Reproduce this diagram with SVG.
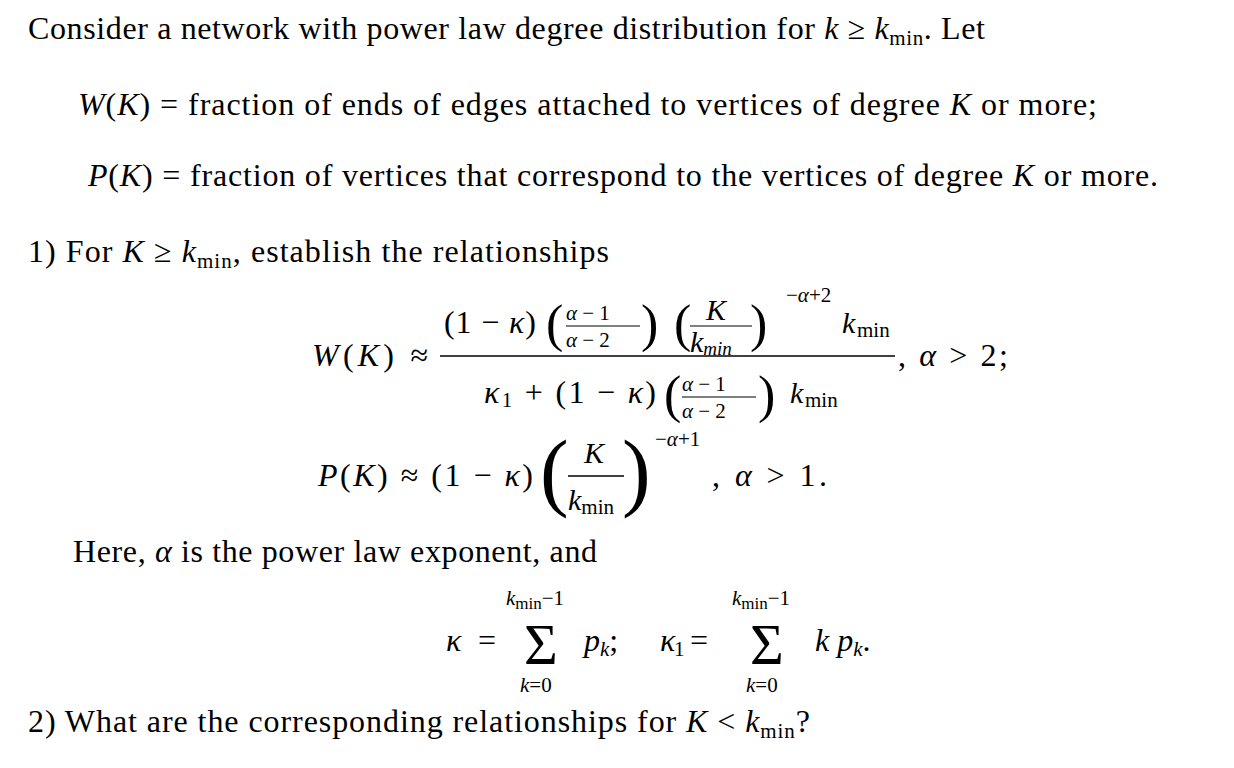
<svg xmlns="http://www.w3.org/2000/svg" width="1234" height="768" viewBox="0 0 1234 768">
<style>
text{font-family:"Liberation Serif","DejaVu Serif",serif;font-size:30px;fill:#000}
.t{font-size:32px}
.i{font-style:italic}
.s{font-size:21px}
.m{font-size:52px}
.b{font-size:86px}
.sig{font-size:58px}
</style>
<rect width="1234" height="768" fill="#fff"/>
<text class="t" x="28" y="39" textLength="957" lengthAdjust="spacing">Consider a network with power law degree distribution for <tspan class="i">k</tspan> ≥ <tspan class="i">k</tspan><tspan class="s" dy="6">min</tspan><tspan dy="-6">. Let</tspan></text>
<text class="t" x="78" y="115" textLength="1019" lengthAdjust="spacing"><tspan class="i">W</tspan>(<tspan class="i">K</tspan>) = fraction of ends of edges attached to vertices of degree <tspan class="i">K</tspan> or more;</text>
<text class="t" x="88" y="186" textLength="1070" lengthAdjust="spacing"><tspan class="i">P</tspan>(<tspan class="i">K</tspan>) = fraction of vertices that correspond to the vertices of degree <tspan class="i">K</tspan> or more.</text>
<text class="t" x="28" y="262" textLength="581" lengthAdjust="spacing">1)  For <tspan class="i">K</tspan> ≥ <tspan class="i">k</tspan><tspan class="s" dy="6">min</tspan><tspan dy="-6">, establish the relationships</tspan></text>
<g id="W">
<text class="t" x="312" y="366" textLength="116" lengthAdjust="spacing"><tspan class="i">W</tspan>(<tspan class="i">K</tspan>) ≈</text>
<line x1="440" y1="356" x2="895" y2="356" stroke="#000" stroke-width="1.3"/>
<text class="t" x="444" y="333" textLength="92" lengthAdjust="spacing">(1 − <tspan class="i">κ</tspan>)</text>
<text x="546" y="341" class="m">(</text>
<text x="566" y="320" class="s"><tspan class="i">α</tspan> − 1</text>
<line x1="566" y1="326" x2="640" y2="326" stroke="#000" stroke-width="1.2"/>
<text x="566" y="347" class="s"><tspan class="i">α</tspan> − 2</text>
<text x="641" y="341" class="m">)</text>
<text x="674" y="341" class="m">(</text>
<text x="706" y="320" class="i">K</text>
<line x1="690" y1="326" x2="752" y2="326" stroke="#000" stroke-width="1.2"/>
<text x="690" y="352" class="i" font-size="24px">k<tspan font-size="19px" dy="3">min</tspan></text>
<text x="750" y="341" class="m">)</text>
<text x="786" y="302" class="s">−<tspan class="i">α</tspan>+2</text>
<text x="842" y="333" class="i">k</text><text x="857" y="337" class="s">min</text>
<text class="t" x="484" y="403" textLength="172" lengthAdjust="spacing"><tspan class="i">κ</tspan><tspan class="s" dy="4">1</tspan><tspan dy="-4"> + (1 − </tspan><tspan class="i">κ</tspan>)</text>
<text x="664" y="412" class="m">(</text>
<text x="682" y="391" class="s"><tspan class="i">α</tspan> − 1</text>
<line x1="682" y1="397" x2="756" y2="397" stroke="#000" stroke-width="1.2"/>
<text x="682" y="418" class="s"><tspan class="i">α</tspan> − 2</text>
<text x="758" y="412" class="m">)</text>
<text x="790" y="403" class="i">k</text><text x="805" y="407" class="s">min</text>
<text class="t" x="898" y="366" textLength="110" lengthAdjust="spacing">, <tspan class="i">α</tspan> &gt; 2;</text>
</g>
<g id="P">
<text class="t" x="318" y="486" textLength="215" lengthAdjust="spacing"><tspan class="i">P</tspan>(<tspan class="i">K</tspan>) ≈ (1 − <tspan class="i">κ</tspan>)</text>
<text x="540" y="500" class="b">(</text>
<text x="584" y="463" class="i">K</text>
<line x1="568" y1="476" x2="624" y2="476" stroke="#000" stroke-width="1.3"/>
<text x="568" y="510" class="i">k<tspan class="s" dy="4" font-style="normal">min</tspan></text>
<text x="622" y="500" class="b">)</text>
<text x="655" y="446" class="s">−<tspan class="i">α</tspan>+1</text>
<text class="t" x="712" y="486" textLength="115" lengthAdjust="spacing">, <tspan class="i">α</tspan> &gt; 1.</text>
</g>
<text class="t" x="73" y="562" textLength="524" lengthAdjust="spacing">Here, <tspan class="i">α</tspan> is the power law exponent, and</text>
<g id="sums">
<text class="t" x="446" y="651" textLength="50" lengthAdjust="spacing"><tspan class="i">κ</tspan> =</text>
<text x="506" y="605" class="s"><tspan class="i">k</tspan><tspan font-size="17px" dy="4">min</tspan><tspan dy="-4">−1</tspan></text>
<text x="524" y="664" class="sig">Σ</text>
<text x="520" y="692" class="s"><tspan class="i">k</tspan>=0</text>
<text class="t" x="584" y="651"><tspan class="i">p</tspan><tspan class="s i" dy="5">k</tspan><tspan dy="-5">;</tspan></text>
<text class="t" x="660" y="651" textLength="48" lengthAdjust="spacing"><tspan class="i">κ</tspan><tspan class="s" dy="5">1</tspan><tspan dy="-5"> =</tspan></text>
<text x="732" y="605" class="s"><tspan class="i">k</tspan><tspan font-size="17px" dy="4">min</tspan><tspan dy="-4">−1</tspan></text>
<text x="750" y="664" class="sig">Σ</text>
<text x="746" y="692" class="s"><tspan class="i">k</tspan>=0</text>
<text class="t" x="815" y="651"><tspan class="i">k p</tspan><tspan class="s i" dy="5">k</tspan><tspan dy="-5">.</tspan></text>
</g>
<text class="t" x="28" y="732" textLength="782" lengthAdjust="spacing">2)  What are the corresponding relationships for <tspan class="i">K</tspan> &lt; <tspan class="i">k</tspan><tspan class="s" dy="6">min</tspan><tspan dy="-6">?</tspan></text>
</svg>
